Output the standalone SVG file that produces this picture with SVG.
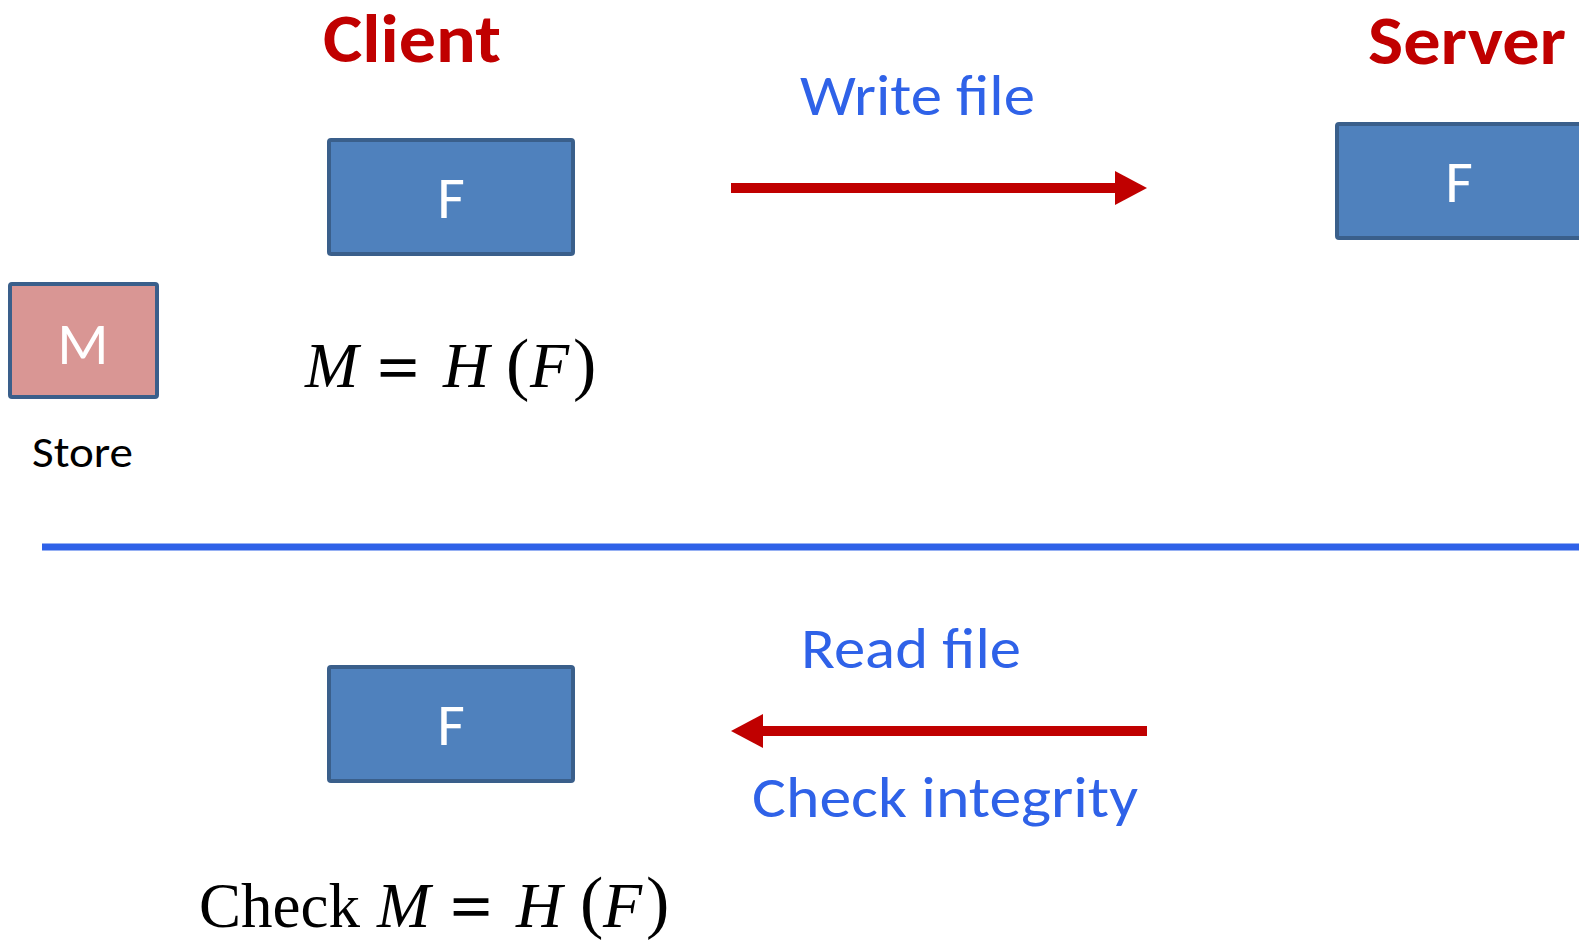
<svg xmlns="http://www.w3.org/2000/svg" width="1579" height="943" viewBox="0 0 1579 943">
<defs>
<style>
.box{fill:#4F81BD;stroke:#3A5F8B;stroke-width:4}
.mbox{fill:#D99694;stroke:#3A5F8B;stroke-width:4}
.lbl{font-family:"Carlito","Open Sans","Liberation Sans",sans-serif;fill:#FFFFFF;font-size:60px;text-anchor:middle}
.title{font-family:"Carlito","Open Sans","Liberation Sans",sans-serif;font-weight:bold;fill:#C00000;font-size:68px}
.blue{font-family:"Carlito","Open Sans","Liberation Sans",sans-serif;fill:#2F62E8;font-size:57px}
.store{font-family:"Carlito","Open Sans","Liberation Sans",sans-serif;fill:#000;font-size:43px}
.math{font-family:"Liberation Serif","DejaVu Serif",serif;fill:#000;font-size:64px}
.it{font-style:italic}
.eq{stroke:#000;stroke-width:1.6}
.par{font-size:70px}
.arrow{stroke:#C00000;stroke-width:10}
</style>
<marker id="head" markerWidth="3.2" markerHeight="3.4" refX="0" refY="1.7" orient="auto" markerUnits="strokeWidth">
<path d="M0,0 L3.2,1.7 L0,3.4 Z" fill="#C00000"/>
</marker>
</defs>
<rect width="1579" height="943" fill="#FFFFFF"/>
<g id="title-client"><text class="title" x="323" y="62" textLength="178" lengthAdjust="spacingAndGlyphs">Client</text></g>
<g id="title-server"><text class="title" x="1368" y="64" textLength="198" lengthAdjust="spacingAndGlyphs">Server</text></g>
<g id="client-file-top"><rect class="box" x="329" y="140" width="244" height="114" rx="2"/><text class="lbl" x="451" y="218">F</text></g>
<g id="server-file"><rect class="box" x="1337" y="124" width="250" height="114" rx="2"/><text class="lbl" x="1459" y="202">F</text></g>
<g id="store-m"><rect class="mbox" x="10" y="284" width="147" height="113" rx="2"/><text class="lbl" x="83" y="364">M</text><text class="store" x="32" y="467" textLength="101" lengthAdjust="spacingAndGlyphs">Store</text></g>
<g id="hash-eq"><text class="math"><tspan class="it" x="305" y="387">M</tspan><tspan class="eq" x="378" y="389" textLength="40" lengthAdjust="spacingAndGlyphs">=</tspan><tspan class="it" x="443" y="387">H</tspan><tspan class="par" x="506" y="387">(</tspan><tspan class="it" x="530" y="387">F</tspan><tspan class="par" x="573" y="387">)</tspan></text></g>
<g id="label-write"><text class="blue" x="800" y="115" textLength="235" lengthAdjust="spacingAndGlyphs">Write file</text></g>
<g id="divider"><line x1="42" y1="547" x2="1579" y2="547" stroke="#2F62E8" stroke-width="7"/></g>
<g id="label-read"><text class="blue" x="801" y="668" textLength="220" lengthAdjust="spacingAndGlyphs">Read file</text></g>
<g id="label-check"><text class="blue" x="752" y="817" textLength="386" lengthAdjust="spacingAndGlyphs">Check integrity</text></g>
<g id="client-file-bottom"><rect class="box" x="329" y="667" width="244" height="114" rx="2"/><text class="lbl" x="451" y="745">F</text></g>
<g id="check-eq"><text class="math"><tspan x="199" y="927" textLength="161" lengthAdjust="spacingAndGlyphs">Check</tspan><tspan class="it" x="377" y="927">M</tspan><tspan class="eq" x="451" y="928" textLength="40" lengthAdjust="spacingAndGlyphs">=</tspan><tspan class="it" x="516" y="927">H</tspan><tspan class="par" x="580" y="925">(</tspan><tspan class="it" x="603" y="927">F</tspan><tspan class="par" x="646" y="925">)</tspan></text></g>
<g id="connectors">
<line class="arrow" x1="731" y1="188" x2="1115" y2="188" marker-end="url(#head)"/>
<line class="arrow" x1="1147" y1="731" x2="763" y2="731" marker-end="url(#head)"/>
</g>
</svg>
